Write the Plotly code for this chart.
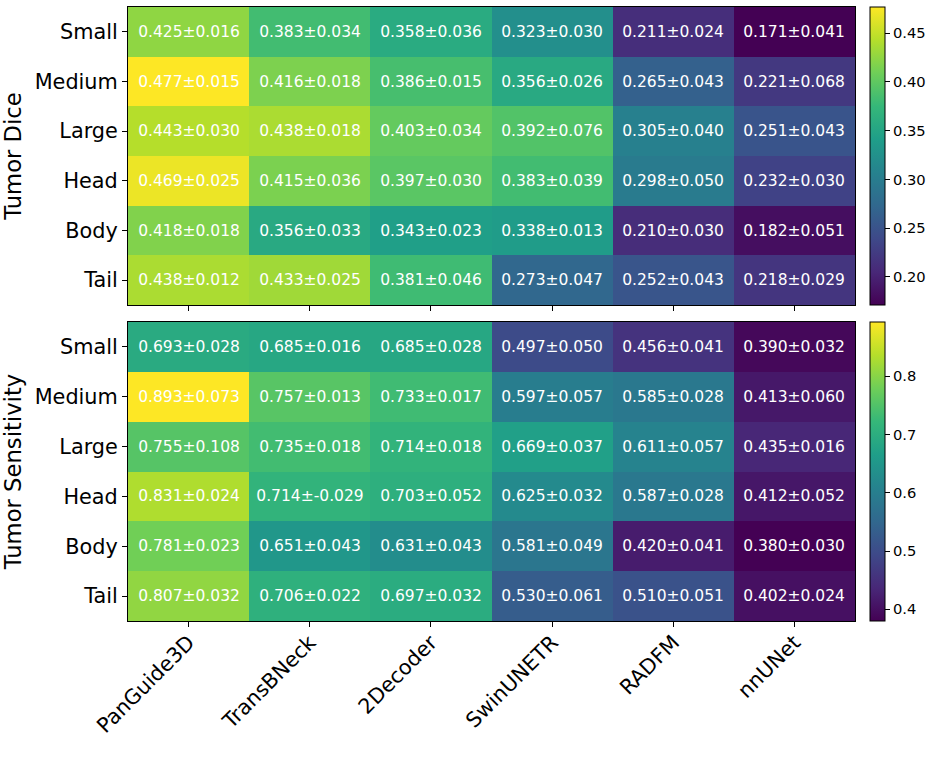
import plotly.graph_objects as go

models = ["PanGuide3D", "TransBNeck", "2Decoder", "SwinUNETR", "RADFM", "nnUNet"]
rows = ["Small", "Medium", "Large", "Head", "Body", "Tail"]

dice_mean = [
    [0.425, 0.383, 0.358, 0.323, 0.211, 0.171],
    [0.477, 0.416, 0.386, 0.356, 0.265, 0.221],
    [0.443, 0.438, 0.403, 0.392, 0.305, 0.251],
    [0.469, 0.415, 0.397, 0.383, 0.298, 0.232],
    [0.418, 0.356, 0.343, 0.338, 0.210, 0.182],
    [0.438, 0.433, 0.381, 0.273, 0.252, 0.218],
]
dice_std = [
    [0.016, 0.034, 0.036, 0.030, 0.024, 0.041],
    [0.015, 0.018, 0.015, 0.026, 0.043, 0.068],
    [0.030, 0.018, 0.034, 0.076, 0.040, 0.043],
    [0.025, 0.036, 0.030, 0.039, 0.050, 0.030],
    [0.018, 0.033, 0.023, 0.013, 0.030, 0.051],
    [0.012, 0.025, 0.046, 0.047, 0.043, 0.029],
]
sens_mean = [
    [0.693, 0.685, 0.685, 0.497, 0.456, 0.390],
    [0.893, 0.757, 0.733, 0.597, 0.585, 0.413],
    [0.755, 0.735, 0.714, 0.669, 0.611, 0.435],
    [0.831, 0.714, 0.703, 0.625, 0.587, 0.412],
    [0.781, 0.651, 0.631, 0.581, 0.420, 0.380],
    [0.807, 0.706, 0.697, 0.530, 0.510, 0.402],
]
sens_std = [
    [0.028, 0.016, 0.028, 0.050, 0.041, 0.032],
    [0.073, 0.013, 0.017, 0.057, 0.028, 0.060],
    [0.108, 0.018, 0.018, 0.037, 0.057, 0.016],
    [0.024, -0.029, 0.052, 0.032, 0.028, 0.052],
    [0.023, 0.043, 0.043, 0.049, 0.041, 0.030],
    [0.032, 0.022, 0.032, 0.061, 0.051, 0.024],
]


def labels(m, s):
    return [[f"{a:.3f}±{b:.3f}" for a, b in zip(rm, rs)] for rm, rs in zip(m, s)]


W, H = 929, 767
FONT = "DejaVu Sans"

x0, x1 = 128 / W, 855 / W
top_dom = [1 - 305 / H, 1 - 7 / H]
bot_dom = [1 - 621 / H, 1 - 322 / H]
cb_x = 870 / W

fig = go.Figure()

def cb(dom, dtick, fmt):
    return dict(
        x=cb_x, xanchor="left", xpad=0,
        y=dom[1], yanchor="top", ypad=0,
        len=dom[1] - dom[0], lenmode="fraction",
        thickness=15, thicknessmode="pixels",
        outlinewidth=1, outlinecolor="black",
        ticks="outside", ticklen=5, tickwidth=1, tickcolor="black",
        dtick=dtick, tickformat=fmt,
        tickfont=dict(family=FONT, size=14.7, color="black"),
    )

fig.add_trace(go.Heatmap(
    z=dice_mean, x=models, y=rows, text=labels(dice_mean, dice_std),
    texttemplate="%{text}", textfont=dict(family=FONT, size=15.5, color="white"),
    colorscale="Viridis", zmin=0.171, zmax=0.477,
    colorbar=cb(top_dom, 0.05, ".2f"),
    xaxis="x", yaxis="y", hoverinfo="skip",
))
fig.add_trace(go.Heatmap(
    z=sens_mean, x=models, y=rows, text=labels(sens_mean, sens_std),
    texttemplate="%{text}", textfont=dict(family=FONT, size=15.5, color="white"),
    colorscale="Viridis", zmin=0.380, zmax=0.893,
    colorbar=cb(bot_dom, 0.1, ".1f"),
    xaxis="x2", yaxis="y2", hoverinfo="skip",
))

axcommon = dict(
    showline=True, linecolor="black", linewidth=1, mirror=True,
    ticks="outside", ticklen=5, tickwidth=1, tickcolor="black",
    showgrid=False, zeroline=False, automargin=False,
)
tickfont = dict(family=FONT, size=20.8, color="black")
titlefont = dict(family=FONT, size=22.7, color="black")

fig.update_layout(
    width=W, height=H,
    margin=dict(l=0, r=0, t=0, b=0, autoexpand=False),
    paper_bgcolor="white", plot_bgcolor="white",
    font=dict(family=FONT),
    xaxis=dict(domain=[x0, x1], anchor="y", showticklabels=False, **axcommon),
    yaxis=dict(domain=top_dom, anchor="x", autorange="reversed",
               tickfont=tickfont, title=dict(text="Tumor Dice", font=titlefont, standoff=7),
               **axcommon),
    xaxis2=dict(domain=[x0, x1], anchor="y2", tickangle=-45, tickfont=tickfont,
                ticklabelstandoff=-5, **axcommon),
    yaxis2=dict(domain=bot_dom, anchor="x2", autorange="reversed",
                tickfont=tickfont, title=dict(text="Tumor Sensitivity", font=titlefont, standoff=7),
                **axcommon),
)

fig.write_html("out.html")
